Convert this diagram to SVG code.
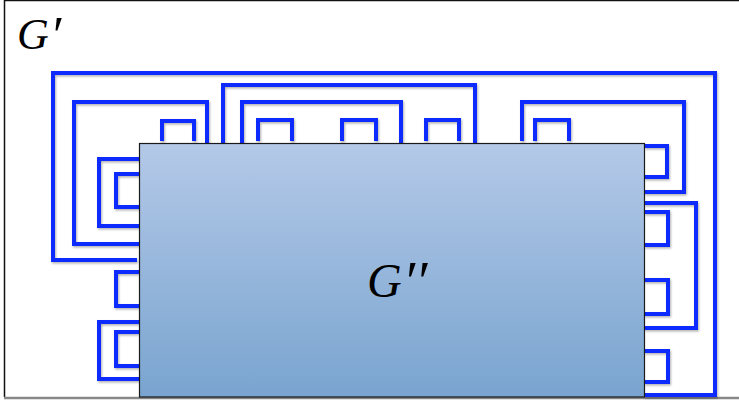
<svg xmlns="http://www.w3.org/2000/svg" width="739" height="400" viewBox="0 0 739 400">
  <style>
    .blue { fill: none; stroke: #0a2cff; stroke-width: 4; stroke-linejoin: miter; }
    .lbl { font-family: "Liberation Serif", "DejaVu Serif", serif; font-style: italic; fill: #000; }
  </style>
  <defs>
    <linearGradient id="boxGrad" x1="0" y1="0" x2="0" y2="1">
      <stop offset="0" stop-color="#b4c9e8"/>
      <stop offset="1" stop-color="#79a4cf"/>
    </linearGradient>
    <filter id="shadow" x="-5%" y="-5%" width="110%" height="110%">
      <feDropShadow dx="1" dy="1.5" stdDeviation="1" flood-color="#000" flood-opacity="0.3"/>
    </filter>
  </defs>
  <rect x="0" y="0" width="739" height="400" fill="#fff"/>

  <g id="G-prime">
    <path d="M739,0.5 H4.5 V397" fill="none" stroke="#111" stroke-width="1.5"/>
    <path d="M4,398 H739" fill="none" stroke="#888" stroke-width="2.5"/>
    <text class="lbl" x="17" y="49" font-size="44">G<tspan font-size="52" dx="1" dy="4">′</tspan></text>
  </g>

  <g id="connectors" filter="url(#shadow)">
    <path class="blue" d="M137,260 H53 V73 H715 V395 H644"/>
    <path class="blue" d="M139,244 H74 V102 H207 V143"/>
    <path class="blue" d="M162,141 V121 H194 V141"/>
    <path class="blue" d="M139,159 H99 V226 H139"/>
    <path class="blue" d="M139,174 H116 V207 H139"/>
    <path class="blue" d="M139,272 H116 V306 H139"/>
    <path class="blue" d="M139,322 H99 V379 H139"/>
    <path class="blue" d="M139,332 H116 V366 H139"/>
    <path class="blue" d="M223,143 V85 H475 V143"/>
    <path class="blue" d="M242,143 V102 H401 V143"/>
    <path class="blue" d="M258,141 V120 H292 V141"/>
    <path class="blue" d="M342,141 V120 H376 V141"/>
    <path class="blue" d="M426,141 V120 H459 V141"/>
    <path class="blue" d="M522,141 V102 H684 V192 H644"/>
    <path class="blue" d="M535,141 V120 H569 V141"/>
    <path class="blue" d="M644,146 H667 V177 H644"/>
    <path class="blue" d="M644,203 H696 V328 H644"/>
    <path class="blue" d="M644,212 H668 V245 H644"/>
    <path class="blue" d="M644,280 H668 V314 H644"/>
    <path class="blue" d="M644,351 H668 V382 H644"/>
  </g>

  <g id="G-double-prime">
    <rect x="139.5" y="143.5" width="505" height="253.5" fill="url(#boxGrad)" stroke="#1a1a1a" stroke-width="1.2"/>
    <text class="lbl" x="367" y="297" font-size="48">G<tspan font-size="56" dx="1" dy="4">′′</tspan></text>
  </g>
</svg>
